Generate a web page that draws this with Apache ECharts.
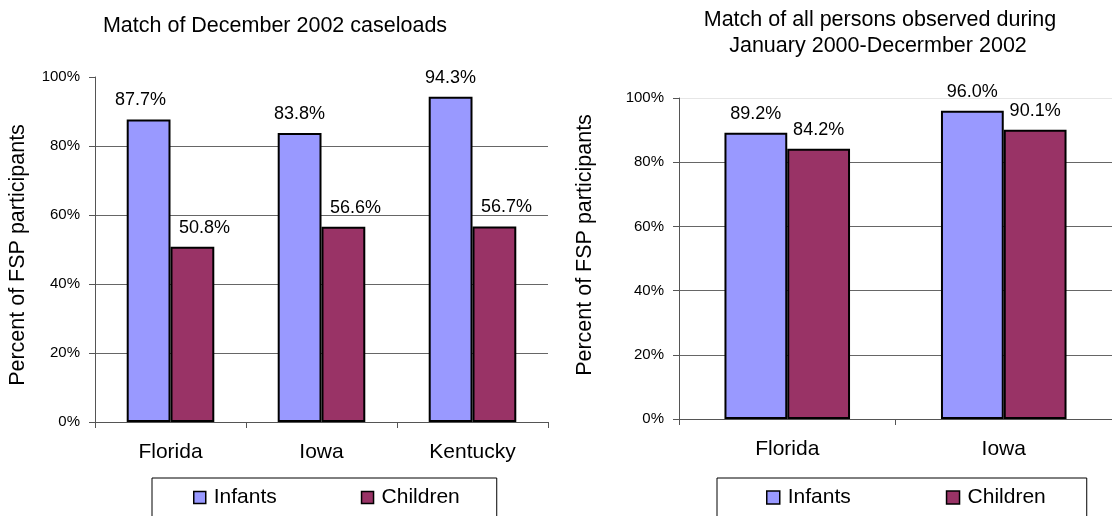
<!DOCTYPE html>
<html><head><meta charset="utf-8">
<script src="https://cdn.jsdelivr.net/npm/echarts@6/dist/echarts.min.js"></script>
<style>html,body{margin:0;padding:0;background:#fff}#c{width:1112px;height:516px}</style>
</head><body><div id="c"></div>
<script>
const leftTitle = 'Match of December 2002 caseloads';
const rightTitleLines = ['Match of all persons observed during', 'January 2000-Decermber 2002'];
const yAxisName = 'Percent of FSP participants';
const seriesNames = ['Infants', 'Children'];
const leftCategories = ['Florida', 'Iowa', 'Kentucky'];
const leftInfants = [87.7, 83.8, 94.3];
const leftChildren = [50.8, 56.6, 56.7];
const rightCategories = ['Florida', 'Iowa'];
const rightInfants = [89.2, 96.0];
const rightChildren = [84.2, 90.1];
const yTickValues = [0, 20, 40, 60, 80, 100];

const FONT = 'Liberation Sans, Arial, Helvetica, sans-serif';
const INF = '#9999FF', CHI = '#993366';
const chart = echarts.init(document.getElementById('c'), null, {renderer: 'canvas'});

function yAxis(gridIndex, topColor) {
  const cols = yTickValues.map((v, i) => i === yTickValues.length - 1 ? topColor : '#666');
  return {
    type: 'value', gridIndex,
    min: yTickValues[0], max: yTickValues[yTickValues.length - 1],
    interval: yTickValues[1] - yTickValues[0],
    axisLine: {show: true, lineStyle: {color: '#555', width: 1}},
    axisTick: {show: true, length: 6, lineStyle: {color: '#555'}},
    axisLabel: {formatter: '{value}%', fontSize: 15, color: '#000', fontFamily: FONT, margin: 15},
    splitLine: {show: true, lineStyle: {color: cols, width: 1}}
  };
}
function xAxis(gridIndex, data) {
  return {
    type: 'category', gridIndex, data,
    axisLine: {show: true, lineStyle: {color: '#555', width: 1}},
    axisTick: {show: true, length: 6, lineStyle: {color: '#555'}},
    axisLabel: {fontSize: 21, color: '#000', fontFamily: FONT, margin: 20, interval: 0}
  };
}
function barSeries(name, color, data, xi, labelOffset) {
  return {
    type: 'bar', name, xAxisIndex: xi, yAxisIndex: xi,
    data,
    barGap: '0%', barCategoryGap: '42%',
    itemStyle: {color, borderColor: '#000', borderWidth: 2},
    label: {show: true, position: 'top', distance: 10, fontSize: 18, color: '#000', fontFamily: FONT,
            formatter: p => p.value.toFixed(1) + '%', offset: labelOffset || [0, 0]},
    emphasis: {disabled: true}, animation: false
  };
}
const leftInfData = leftInfants.map((v, i) => i === 0 ? {value: v, label: {offset: [-8, 0]}} : v);

function legend(left, pad, gap, size) {
  return {
    left, top: 478, orient: 'horizontal', padding: pad, itemGap: gap,
    itemWidth: size, itemHeight: size, icon: 'rect', selectedMode: false,
    borderColor: '#000', borderWidth: 1,
    data: seriesNames,
    itemStyle: {borderColor: '#000', borderWidth: 1.5},
    textStyle: {fontSize: 21, color: '#000', fontFamily: FONT, padding: [0, 0, 0, 3]}
  };
}

function gtext(text, x, y, size, rot) {
  return {type: 'text', x, y, rotation: rot || 0, silent: true,
    style: {text, fontSize: size, fontFamily: FONT, fill: '#000', align: 'center', verticalAlign: 'middle'}};
}

chart.setOption({
  animation: false,
  grid: [
    {left: 95, top: 77, width: 453, height: 345},
    {left: 679, top: 98, width: 440, height: 321}
  ],
  xAxis: [xAxis(0, leftCategories), xAxis(1, rightCategories)],
  yAxis: [yAxis(0, 'rgba(0,0,0,0)'), yAxis(1, '#e6e6e6')],
  legend: [legend(152, [9, 37, 40, 41], 84, 12), legend(717, [9, 41, 40, 49], 95, 13)],
  series: [
    barSeries(seriesNames[0], INF, leftInfData, 0),
    barSeries(seriesNames[1], CHI, leftChildren, 0, [12, 0]),
    barSeries(seriesNames[0], INF, rightInfants, 1),
    barSeries(seriesNames[1], CHI, rightChildren, 1)
  ],
  graphic: [
    gtext(leftTitle, 275, 26, 21.5),
    gtext(rightTitleLines[0], 880, 20, 21.5),
    gtext(rightTitleLines[1], 878, 46, 21.5),
    gtext(yAxisName, 18, 255, 21.5, Math.PI / 2),
    gtext(yAxisName, 585, 245, 21.5, Math.PI / 2)
  ]
});
</script></body></html>
